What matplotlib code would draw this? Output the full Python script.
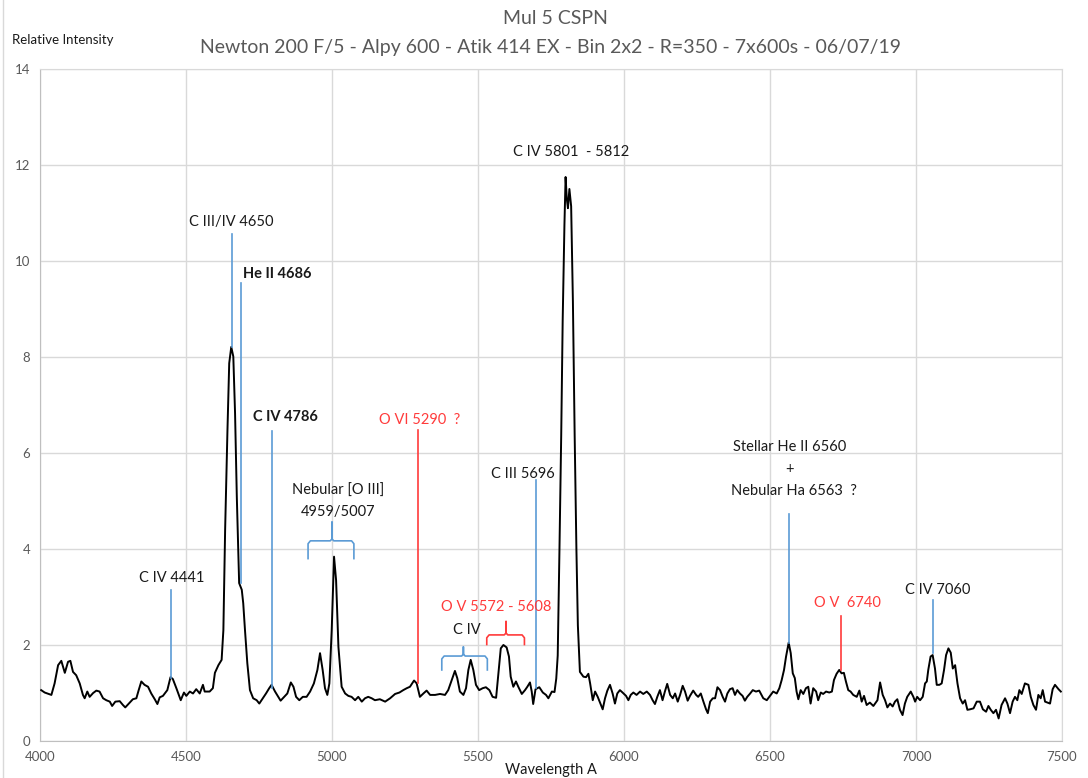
"""Mul 5 CSPN spectrum (Alpy 600), redrawn with matplotlib."""
import matplotlib
matplotlib.use("Agg")
import matplotlib.pyplot as plt
from matplotlib.lines import Line2D

plt.rcParams["font.family"] = ["Lato", "DejaVu Sans"]

# wavelength (A) and relative intensity
wave = [4004, 4016, 4039, 4050, 4062, 4073, 4085, 4096, 4104, 4113, 4124, 4136,
        4147, 4153, 4162, 4170, 4182, 4193, 4204, 4216, 4227, 4239, 4247, 4258,
        4273, 4284, 4292, 4304, 4318, 4330, 4338, 4347, 4358, 4370, 4381, 4393,
        4402, 4410, 4421, 4436, 4447, 4455, 4467, 4482, 4493, 4501, 4513, 4524,
        4535, 4547, 4558, 4564, 4581, 4592, 4599, 4611, 4622, 4628, 4634, 4642,
        4648, 4655, 4662, 4668, 4674, 4682, 4691, 4696, 4702, 4710, 4719, 4730,
        4742, 4751, 4763, 4774, 4785, 4793, 4805, 4816, 4824, 4836, 4847, 4859,
        4868, 4877, 4888, 4900, 4913, 4925, 4938, 4950, 4959, 4968, 4976, 4984,
        4991, 4999, 5007, 5014, 5022, 5033, 5045, 5056, 5067, 5079, 5090, 5102,
        5113, 5124, 5136, 5147, 5164, 5182, 5199, 5216, 5231, 5244, 5256, 5267,
        5281, 5290, 5301, 5313, 5324, 5336, 5353, 5370, 5387, 5398, 5410, 5421,
        5429, 5438, 5450, 5459, 5467, 5475, 5484, 5493, 5504, 5516, 5527, 5539,
        5550, 5562, 5570, 5578, 5587, 5598, 5606, 5612, 5621, 5630, 5638, 5650,
        5661, 5669, 5678, 5684, 5689, 5697, 5710, 5722, 5733, 5741, 5753, 5762,
        5768, 5773, 5779, 5785, 5790, 5796, 5800, 5804, 5808, 5813, 5819, 5825,
        5831, 5837, 5842, 5849, 5861, 5870, 5878, 5884, 5893, 5901, 5910, 5918,
        5927, 5935, 5943, 5952, 5961, 5969, 5977, 5986, 5995, 6007, 6015, 6023,
        6032, 6043, 6055, 6066, 6078, 6089, 6098, 6106, 6114, 6123, 6132, 6140,
        6148, 6158, 6167, 6175, 6184, 6192, 6201, 6209, 6218, 6226, 6237, 6247,
        6254, 6263, 6272, 6281, 6287, 6295, 6304, 6312, 6320, 6329, 6338, 6346,
        6354, 6363, 6372, 6380, 6388, 6397, 6406, 6414, 6422, 6432, 6441, 6452,
        6463, 6477, 6489, 6500, 6511, 6523, 6532, 6540, 6548, 6555, 6564, 6571,
        6578, 6585, 6591, 6597, 6605, 6614, 6623, 6631, 6639, 6648, 6658, 6665,
        6674, 6682, 6692, 6703, 6712, 6719, 6728, 6737, 6745, 6753, 6760, 6768,
        6776, 6785, 6797, 6806, 6814, 6822, 6831, 6842, 6854, 6868, 6877, 6886,
        6894, 6902, 6911, 6920, 6928, 6936, 6945, 6954, 6962, 6970, 6982, 6991,
        6997, 7004, 7014, 7023, 7031, 7037, 7042, 7050, 7057, 7065, 7071, 7080,
        7088, 7096, 7103, 7111, 7119, 7126, 7134, 7142, 7151, 7160, 7168, 7176,
        7185, 7197, 7208, 7219, 7229, 7240, 7248, 7256, 7265, 7274, 7283, 7293,
        7305, 7313, 7322, 7331, 7339, 7347, 7354, 7362, 7373, 7385, 7393, 7402,
        7411, 7419, 7427, 7434, 7442, 7450, 7459, 7468, 7476, 7488, 7496]
flux = [1.06, 1.01, 0.96, 1.20, 1.58, 1.67, 1.42, 1.65, 1.67, 1.44, 1.37, 1.20,
        0.96, 0.89, 1.03, 0.92, 1.00, 1.05, 1.03, 0.89, 0.85, 0.82, 0.73, 0.82,
        0.83, 0.75, 0.70, 0.78, 0.87, 0.89, 1.06, 1.24, 1.17, 1.13, 0.99, 0.87,
        0.77, 0.91, 0.94, 1.06, 1.33, 1.29, 1.10, 0.85, 1.01, 0.94, 1.03, 0.99,
        1.08, 0.99, 1.17, 1.03, 1.03, 1.10, 1.42, 1.58, 1.69, 2.31, 4.40, 6.48,
        7.87, 8.21, 8.01, 6.83, 5.09, 3.29, 3.15, 2.87, 2.31, 1.62, 1.06, 0.89,
        0.85, 0.78, 0.89, 0.99, 1.10, 1.17, 1.03, 0.92, 0.84, 0.92, 0.99, 1.22,
        1.13, 0.92, 0.85, 0.92, 0.92, 1.03, 1.20, 1.48, 1.83, 1.48, 1.10, 0.96,
        1.20, 2.31, 3.84, 3.35, 1.96, 1.13, 0.99, 0.94, 0.92, 0.85, 0.92, 0.82,
        0.89, 0.92, 0.89, 0.85, 0.87, 0.82, 0.89, 0.98, 1.01, 1.06, 1.10, 1.13,
        1.26, 1.20, 0.92, 0.99, 1.05, 0.96, 0.96, 0.98, 0.96, 1.06, 1.27, 1.46,
        1.31, 1.03, 0.96, 1.10, 1.48, 1.69, 1.48, 1.17, 1.06, 1.10, 1.12, 1.06,
        0.92, 0.90, 1.41, 1.93, 2.00, 1.95, 1.76, 1.34, 1.13, 1.24, 1.13, 0.98,
        1.06, 1.13, 1.22, 1.03, 0.77, 1.08, 1.12, 1.01, 0.96, 0.89, 1.03, 1.02,
        1.30, 1.78, 4.00, 6.38, 8.76, 10.75, 11.75, 11.30, 11.10, 11.50, 11.14, 9.16,
        6.38, 4.00, 2.41, 1.44, 1.34, 1.33, 1.40, 1.20, 0.85, 1.03, 0.92, 0.80,
        0.66, 0.89, 1.05, 1.17, 0.99, 0.78, 0.99, 1.06, 1.01, 0.94, 0.85, 0.96,
        1.01, 0.96, 1.03, 0.98, 1.03, 0.96, 0.85, 0.77, 0.92, 1.06, 0.85, 1.03,
        1.19, 0.96, 0.89, 0.99, 0.82, 0.96, 1.15, 1.03, 0.84, 0.94, 1.05, 0.96,
        0.92, 0.99, 0.82, 0.66, 0.58, 0.82, 0.89, 0.89, 1.12, 1.06, 0.92, 0.82,
        0.99, 1.08, 1.10, 0.96, 1.06, 0.99, 0.94, 0.84, 0.92, 0.99, 1.06, 1.03,
        1.05, 0.89, 0.85, 0.94, 1.03, 0.99, 1.10, 1.27, 1.48, 1.76, 2.05, 1.83,
        1.41, 1.31, 1.03, 0.87, 1.06, 0.98, 1.10, 1.13, 0.78, 1.10, 1.03, 0.85,
        1.01, 0.98, 1.03, 1.01, 1.03, 1.27, 1.40, 1.48, 1.41, 1.42, 1.24, 1.06,
        1.03, 0.96, 0.92, 1.05, 0.82, 0.94, 0.75, 0.80, 0.73, 0.85, 1.22, 0.96,
        0.85, 0.70, 0.78, 0.72, 0.82, 0.87, 0.65, 0.54, 0.78, 0.92, 1.03, 0.92,
        0.82, 0.92, 0.85, 0.92, 1.20, 1.24, 1.48, 1.76, 1.79, 1.51, 1.17, 1.17,
        1.20, 1.48, 1.79, 1.93, 1.84, 1.51, 1.58, 1.20, 0.89, 0.78, 0.85, 0.65,
        0.66, 0.68, 0.82, 0.82, 0.66, 0.61, 0.73, 0.65, 0.58, 0.65, 0.47, 0.75,
        0.89, 0.78, 0.58, 0.82, 0.92, 0.85, 1.06, 0.98, 1.20, 1.17, 0.92, 0.75,
        0.65, 0.96, 0.89, 1.06, 0.82, 0.80, 0.78, 1.08, 1.17, 1.08, 1.03]

# marker lines: (wavelength, top, bottom, colour key)
marks = [(4449, 3.15, 1.31, "b"), (4658, 10.56, 8.21, "b"),
         (4688, 9.54, 3.29, "b"), (4795, 6.46, 1.10, "b"),
         (5294, 6.48, 1.21, "r"), (5699, 5.44, 1.10, "b"),
         (6565, 4.73, 2.04, "b"), (6743, 2.60, 1.48, "r"),
         (7058, 2.94, 1.83, "b")]

# braces: (left, right, level, tip level, nub x, nub top, colour key)
braces = [(4918, 5075, 4.17, 3.80, 5000, 4.56, "b"),
          (5376, 5532, 1.77, 1.48, 5450, 1.96, "b"),
          (5530, 5659, 2.21, 2.01, 5596, 2.49, "r")]

# labels: (x, y, text, colour key, bold)
labels = [(4452, 3.40, "C IV 4441", "k", False),
          (4654, 10.81, "C III/IV 4650", "k", False),
          (4813, 9.73, "He II 4686", "k", True),
          (4842, 6.75, "C IV 4786", "k", True),
          (5021, 5.21, "Nebular [O III]", "k", False),
          (5021, 4.77, "4959/5007", "k", False),
          (5301, 6.69, "O VI 5290  ?", "r", False),
          (5461, 2.31, "C IV", "k", False),
          (5562, 2.79, "O V 5572 - 5608", "r", False),
          (5654, 5.56, "C III 5696", "k", False),
          (5818, 12.27, "C IV 5801  - 5812", "k", False),
          (6568, 6.13, "Stellar He II 6560", "k", False),
          (6568, 5.67, "+", "k", False),
          (6582, 5.21, "Nebular Ha 6563  ?", "k", False),
          (6764, 2.88, "O V  6740", "r", False),
          (7075, 3.15, "C IV 7060", "k", False)]

colors = {"b": "#5b9bd5", "r": "#ff3b3b", "k": "#1a1a1a"}
grey = "#595959"

fig = plt.figure(figsize=(10.88, 7.78), dpi=100)
ax = fig.add_axes([40 / 1088, 37 / 778, 1022 / 1088, 672 / 778])

ax.plot(wave, flux, color="black", lw=1.4, zorder=3)

for x, top, bot, c in marks:
    ax.plot([x, x], [bot, top], color=colors[c], lw=1.2, zorder=4)

for x0, x1, yl, ytip, xn, yn, c in braces:
    col = colors[c]
    ax.plot([x0, x0, x0 + 8, xn - 6, xn, xn, xn, xn + 6, x1 - 8, x1, x1],
            [ytip, yl - 0.06, yl, yl, yl + 0.04, yn, yl + 0.04, yl, yl, yl - 0.06, ytip],
            color=col, lw=1.2, zorder=4)

for x, y, s, c, b in labels:
    ax.text(x, y, s, color=colors[c], fontsize=10.5, ha="center", va="center",
            fontweight="bold" if b else "normal", zorder=5)

ax.set_xlim(4000, 7500)
ax.set_ylim(0, 14)
ax.set_xticks(range(4000, 7501, 500))
ax.set_yticks(range(0, 15, 2))
ax.grid(color="#d9d9d9", lw=1)
ax.set_axisbelow(True)
ax.tick_params(length=0, colors=grey, labelsize=9.5, pad=7)
for sp in ax.spines.values():
    sp.set_color("#d9d9d9")
ax.spines["left"].set_color("#bfbfbf")
ax.spines["bottom"].set_color("#bfbfbf")

ax.set_xlabel("Wavelength A", fontsize=10.5, color="#1a1a1a", labelpad=0)
fig.text(12 / 1088, 1 - 40 / 778, "Relative Intensity", fontsize=9.5,
         color="#1a1a1a", ha="left", va="center")
fig.text(555 / 1088, 1 - 18 / 778, "Mul 5 CSPN", fontsize=14, color=grey,
         ha="center", va="center")
fig.text(550 / 1088, 1 - 47 / 778,
         "Newton 200 F/5 - Alpy 600 - Atik 414 EX - Bin 2x2 - R=350 - 7x600s - 06/07/19",
         fontsize=14, color=grey, ha="center", va="center")
fig.add_artist(Line2D([3 / 1088, 3 / 1088], [0, 1], color="#d9d9d9", lw=1))

fig.savefig("out.png", dpi=100)
